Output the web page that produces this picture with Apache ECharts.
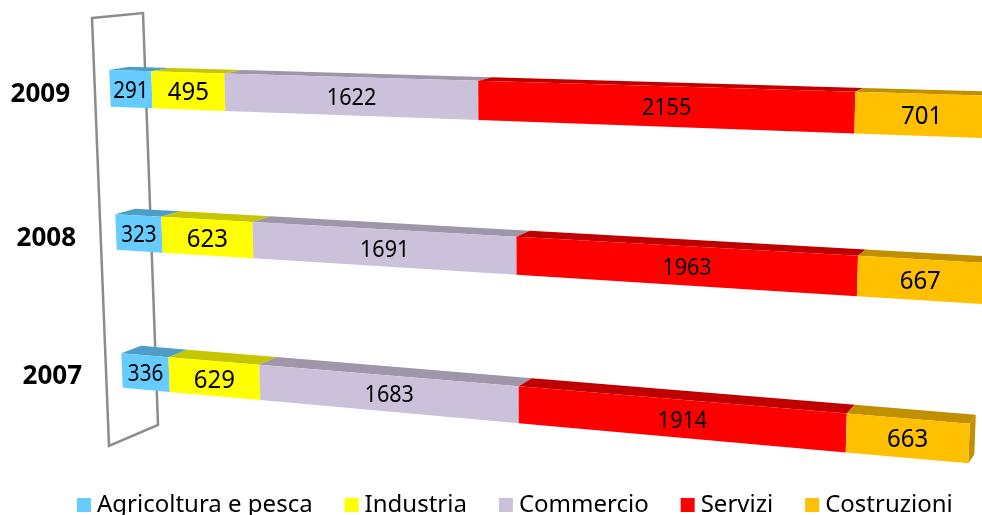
<!DOCTYPE html>
<html>
<head>
<meta charset="utf-8">
<style>html,body{margin:0;padding:0;background:#fff}#main{width:982px;height:515px}</style>
<script src="https://cdn.jsdelivr.net/npm/echarts@6/dist/echarts.min.js"></script>
</head>
<body>
<div id="main"></div>
<script>
// dati
var anni = ['2009', '2008', '2007'];
var settori = ['Agricoltura e pesca', 'Industria', 'Commercio', 'Servizi', 'Costruzioni'];
var agricoltura = [291, 323, 336];
var industria = [495, 623, 629];
var commercio = [1622, 1691, 1683];
var servizi = [2155, 1963, 1914];
var costruzioni = [701, 667, 663];
var valori = [agricoltura, industria, commercio, servizi, costruzioni];

// stili per settore
var colFronte = ['#66CCFF', '#FFFF00', '#CCC1DA', '#FF0000', '#FFC000'];
var colSopra = ['#4D9DC6', '#C6C600', '#9F96AA', '#C00000', '#C09000'];
var sizeEtichetta = [24, 25, 24, 24, 25];
var strettoEtichetta = [0.86, 0.96, 0.9, 0.9, 0.96];

var griglia = {left: 110, top: 18, width: 742, height: 423};
var font = '"Noto Sans", sans-serif';

// prospettiva del piano frontale, da coordinate griglia a schermo
function warp(gx, gy) {
    var p = gx - griglia.left;
    var w = (gy - griglia.top) / (griglia.height / 3) - 0.5;
    var d = 1 - 1.95e-4 * p;
    var x = ((0.1399 - 0.00212 * w) / 0.14 * p + 110 + 6 * w) / d;
    var y = ((0.00222 - 0.00018 * w) / 0.14 * p + (147.7 * w + 88.5) / (1 + 0.018 * w)) / d;
    return [x, y, w, d];
}
// stesso punto sul lato posteriore della barra
function dietro(pt, wRiga) {
    return [pt[0] + 20 - 0.0163 * (pt[0] - 110), pt[1] + (-3.6 - 2.1 * wRiga) / pt[3]];
}
function xy(pt) {
    return [pt[0], pt[1]];
}

function disegnaBlocco(s) {
    return function (params, api) {
        var inizio = api.value(1), fine = api.value(2), riga = api.value(0);
        var c0 = api.coord([inizio, riga]);
        var c1 = api.coord([fine, riga]);
        var meta = api.size([0, 1])[1] * 0.126;
        var a = warp(c0[0], c0[1] - meta), b = warp(c1[0], c1[1] - meta);
        var e = warp(c1[0], c1[1] + meta), f = warp(c0[0], c0[1] + meta);
        var wr = a[2];
        var figli = [];
        figli.push({
            type: 'polygon',
            shape: {points: [xy(a), xy(b), dietro(b, wr), dietro(a, wr)]},
            style: {fill: colSopra[s]}
        });
        if (s === settori.length - 1) {
            figli.push({
                type: 'polygon',
                shape: {points: [xy(b), dietro(b, wr), dietro(e, wr), xy(e)]},
                style: {fill: colSopra[s]}
            });
        }
        figli.push({
            type: 'polygon',
            shape: {points: [xy(a), xy(b), xy(e), xy(f)]},
            style: {fill: colFronte[s]}
        });
        figli.push({
            type: 'text',
            x: (a[0] + b[0] + e[0] + f[0]) / 4,
            y: (a[1] + b[1] + e[1] + f[1]) / 4 + 2,
            scaleX: strettoEtichetta[s],
            style: {
                text: String(fine - inizio),
                align: 'center',
                verticalAlign: 'middle',
                fontFamily: font,
                fontSize: sizeEtichetta[s],
                fill: '#000'
            }
        });
        return {type: 'group', children: figli};
    };
}

function disegnaAnno(params, api) {
    var c = api.coord([0, api.value(0)]);
    var p = warp(c[0], c[1]);
    return {
        type: 'text',
        style: {
            text: anni[api.value(0)],
            x: p[0] - 40,
            y: p[1] + 6.5,
            align: 'right',
            verticalAlign: 'middle',
            fontFamily: font,
            fontWeight: 'bold',
            fontSize: 26,
            fill: '#000'
        }
    };
}

var serie = settori.map(function (nome, s) {
    var righe = anni.map(function (anno, r) {
        var inizio = 0;
        for (var k = 0; k < s; k++) inizio += valori[k][r];
        return [r, inizio, inizio + valori[s][r]];
    });
    return {
        name: nome,
        type: 'custom',
        renderItem: disegnaBlocco(s),
        encode: {x: [1, 2], y: 0},
        clip: false,
        itemStyle: {color: colFronte[s]},
        data: righe
    };
});
serie.push({
    name: 'anni',
    type: 'custom',
    renderItem: disegnaAnno,
    encode: {x: 1, y: 0},
    clip: false,
    data: anni.map(function (a, r) { return [r, 0]; })
});

var mychart = echarts.init(document.getElementById('main'));
var option = {
    animation: false,
    grid: griglia,
    xAxis: {type: 'value', min: 0, max: 5300, show: false},
    yAxis: {type: 'category', inverse: true, data: anni, show: false},
    legend: {
        data: settori,
        left: 77,
        top: 493,
        padding: 0,
        icon: 'rect',
        itemWidth: 14,
        itemHeight: 14,
        itemGap: 32,
        textStyle: {fontFamily: font, fontSize: 24, color: '#000', padding: [2, 0, 0, 1]}
    },
    // parete dell'asse, dietro le barre
    graphic: [{
        type: 'polygon',
        z: -1,
        shape: {points: [[92, 18], [143, 13], [158, 425], [109, 446]]},
        style: {fill: 'none', stroke: '#8C8C8C', lineWidth: 2.5}
    }],
    series: serie
};
mychart.setOption(option);
</script>
</body>
</html>
